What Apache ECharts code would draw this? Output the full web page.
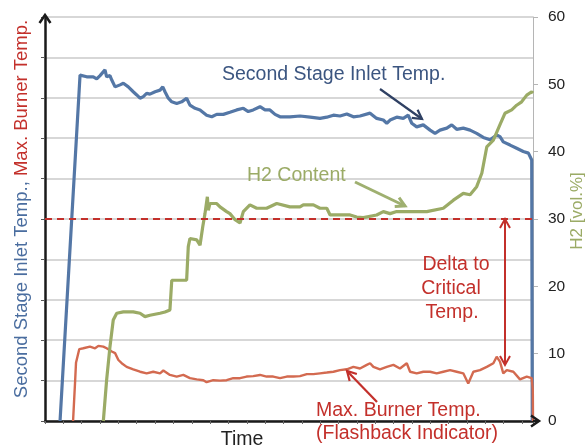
<!DOCTYPE html>
<html>
<head>
<meta charset="utf-8">
<script src="https://cdn.jsdelivr.net/npm/echarts@6/dist/echarts.min.js"></script>
<style>html,body{margin:0;padding:0;background:#fff}#c{width:586px;height:445px}</style>
</head>
<body>
<div id="c"></div>
<script>
// Second Stage Inlet Temp. (left axis, relative units 0-100)
const blueTime = [8.2,19.1,22.7,26.3,28.2,30.0,32.7,33.6,35.4,36.4,38.2,40.9,42.7,45.4,48.1,50.0,51.8,53.6,55.4,57.2,60.0,62.7,64.2,65.4,67.2,69.1,71.8,74.5,77.2,79.0,81.8,84.5,88.1,90.9,93.6,97.2,100.8,104.5,108.1,110.8,113.5,117.2,119.9,122.6,125.4,128.1,131.8,133.5,139.0,144.5,149.9,153.6,157.2,160.8,164.5,168.1,171.7,177.2,180.8,184.4,186.3,188.1,191.7,195.3,198.0,199.9,202.6,206.2,209.9,212.6,215.3,219.0,221.7,224.4,228.0,231.7,235.3,238.9,242.6,246.2,248.0,249.8,253.5,257.1,260.7,263.5,265.3,265.6];
const blueTemp = [0,85.6,85.2,85.2,84.7,85.5,86.9,85.2,85.5,84.4,82.7,83.2,83.6,82.7,81.5,80.7,79.9,80.3,81.1,80.9,81.5,81.9,82.7,81.5,79.9,79.0,78.6,79.0,79.9,78.2,77.4,77.0,75.7,75.3,75.9,75.9,76.4,77.0,77.4,76.6,77.0,77.8,77.0,77.0,75.9,75.3,75.3,75.3,75.5,75.2,74.9,75.2,75.7,75.5,76.0,75.3,75.5,76.2,74.9,74.5,73.7,74.5,75.2,74.9,75.7,73.7,72.8,73.3,72.0,71.2,72.0,72.5,73.3,72.2,72.5,72.0,71.2,70.2,69.6,70.8,70.4,69.1,68.3,67.5,66.7,66.3,64.6,0];

// Max. Burner Temp. (left axis)
const redTime = [15.3,16.4,16.9,18.7,19.1,20.9,24.5,27.3,29.1,31.8,33.6,36.4,38.2,40.0,41.8,44.5,48.1,51.8,55.4,59.0,62.7,64.5,68.1,71.8,75.4,79.0,82.7,86.3,88.1,91.7,95.4,99.0,102.6,106.3,109.9,113.5,117.2,120.8,124.4,128.1,131.8,135.4,139.0,142.7,146.3,149.9,153.6,157.2,160.8,164.5,168.1,171.7,175.4,177.2,179.0,182.6,186.3,189.9,193.5,197.2,199.0,202.6,206.2,209.9,213.5,217.1,220.8,224.4,228.0,230.7,233.5,237.1,240.8,244.4,246.2,248.0,249.8,251.7,255.3,258.9,262.6,265.3,265.9,266.0];
const redTemp = [0,9.7,14.4,17.8,17.6,18.0,18.4,18.0,18.6,18.4,18.0,17.2,16.8,15.1,14.3,13.4,12.8,12.2,11.8,12.2,11.8,12.5,11.4,11.0,11.4,10.6,10.3,10.1,9.6,10.1,10.0,10.1,10.6,10.6,11.0,11.1,11.4,11.0,11.0,10.6,11.0,11.0,11.1,11.6,11.6,11.8,12.0,12.2,12.6,12.8,13.4,13.0,13.9,14.3,13.4,12.8,13.4,13.9,13.0,14.3,12.2,11.8,12.2,12.2,11.8,12.2,12.6,12.2,11.8,9.3,12.2,12.6,13.4,14.3,15.9,14.7,11.8,12.6,12.2,10.3,11.0,10.6,7.7,0];

// H2 content (right axis, vol.%)
const h2Time = [31.8,32.2,33.6,35.4,37.2,39.1,42.7,48.1,51.8,54.5,57.2,62.7,65.4,68.1,69.1,71.8,77.2,78.1,79.0,82.7,84.5,86.0,87.2,88.5,89.0,89.9,93.6,95.4,99.0,100.8,103.6,106.3,108.1,111.7,115.4,120.8,126.3,133.5,139.0,140.8,146.3,149.9,153.6,155.4,162.6,166.3,169.9,173.5,180.8,184.4,188.1,191.7,197.2,208.1,217.1,222.6,228.0,231.7,235.3,238.1,240.8,244.4,248.0,250.7,254.4,257.1,259.8,262.6,265.3,266.0];
const h2Vol = [0,0.1,6.1,11.0,15.0,16.0,16.2,16.2,16.0,15.5,15.7,16.0,16.2,16.5,20.9,20.9,20.9,25.9,27.1,26.9,26.1,28.9,30.8,33.3,31.3,32.3,32.3,31.8,31.1,30.8,29.9,29.4,31.1,32.1,31.6,31.6,32.3,31.8,31.8,32.1,32.1,31.6,31.6,30.6,30.6,30.6,30.3,30.2,30.6,31.1,30.8,31.1,31.1,31.1,31.6,32.8,33.8,33.6,34.8,36.8,40.7,41.7,44.0,45.7,46.2,46.9,47.4,48.4,48.9,48.7];

// Critical reference level (right axis)
const criticalLevel = [30];
const rightTicks = [0,10,20,30,40,50,60];

const zip = (a, b) => a.map((t, i) => [t, b[i]]);
const FONT = "'Liberation Sans', Arial, sans-serif";
const AF = '19.5px ' + FONT;
const RED = '#c3302b', GREEN = '#9bab66', BLUEAX = '#4a6d9f';

function arrowHead(x1, y1, x2, y2, len, half) {
  const a = Math.atan2(y2 - y1, x2 - x1);
  const bx = x2 - len * Math.cos(a), by = y2 - len * Math.sin(a);
  return [[bx + half * Math.sin(a), by - half * Math.cos(a)], [x2, y2], [bx - half * Math.sin(a), by + half * Math.cos(a)]];
}
function arrow(x1, y1, x2, y2, color, w, both) {
  const els = [
    { type: 'line', shape: { x1, y1, x2, y2 }, style: { stroke: color, lineWidth: w }, z: 100 },
    { type: 'polyline', shape: { points: arrowHead(x1, y1, x2, y2, 9, 5) }, style: { stroke: color, lineWidth: w, fill: null }, z: 100 }
  ];
  if (both) els.push({ type: 'polyline', shape: { points: arrowHead(x2, y2, x1, y1, 9, 5) }, style: { stroke: color, lineWidth: w, fill: null }, z: 100 });
  return els;
}
function txt(x, y, text, color, align, font) {
  return { type: 'text', x, y, z: 100,
    style: { text, fill: color, font: font || AF, align: align || 'left', verticalAlign: 'middle' } };
}

const chart = echarts.init(document.getElementById('c'), null, { renderer: 'canvas' });
chart.setOption({
  animation: false,
  backgroundColor: '#ffffff',
  grid: { left: 45, right: 53, top: 17, bottom: 24, containLabel: false },
  xAxis: {
    type: 'value', min: 0, max: 266, interval: 10,
    axisLine: { show: true, lineStyle: { color: '#1a1a1a', width: 2.5 } },
    axisTick: { show: true, length: 3, lineStyle: { color: '#666', width: 1 } },
    axisLabel: { show: false }, splitLine: { show: false }
  },
  yAxis: [
    {
      type: 'value', min: 0, max: 100, interval: 10, position: 'left',
      axisLine: { show: true, lineStyle: { color: '#1a1a1a', width: 2.5 } },
      axisTick: { show: true, length: 4, lineStyle: { color: '#555' } },
      axisLabel: { show: false },
      splitLine: { show: true, lineStyle: { color: '#cacaca', width: 1.5 } }
    },
    {
      type: 'value', min: 0, max: 60, interval: 10, position: 'right',
      axisLine: { show: true, lineStyle: { color: '#b5b5b5', width: 1 } },
      axisTick: { show: true, length: 5, lineStyle: { color: '#b5b5b5' } },
      axisLabel: { show: true, color: '#222', fontSize: 15.5, fontFamily: FONT, margin: 15,
        formatter: v => rightTicks.includes(v) ? String(v) : '' },
      splitLine: { show: false }
    }
  ],
  series: [
    { name: 'Second Stage Inlet Temp.', type: 'line', yAxisIndex: 0, data: zip(blueTime, blueTemp), showSymbol: false,
      lineStyle: { color: '#5477a6', width: 3.2 }, z: 3 },
    { name: 'Max. Burner Temp.', type: 'line', yAxisIndex: 0, data: zip(redTime, redTemp), showSymbol: false,
      lineStyle: { color: '#d36a50', width: 2.4 }, z: 4 },
    { name: 'H2 Content', type: 'line', yAxisIndex: 1, data: zip(h2Time, h2Vol), showSymbol: false,
      lineStyle: { color: GREEN, width: 3.2 }, z: 5 },
    { name: 'Critical', type: 'line', yAxisIndex: 1, data: [[0, criticalLevel[0]], [266, criticalLevel[0]]], showSymbol: false,
      lineStyle: { color: RED, width: 2, type: [7, 5] }, z: 6 }
  ],
  graphic: [
    // axis arrow chevrons
    { type: 'polyline', shape: { points: [[39.5, 23], [45, 15], [50.5, 23]] }, style: { stroke: '#1a1a1a', lineWidth: 2.5, fill: null }, z: 100 },
    { type: 'line', shape: { x1: 45, y1: 17, x2: 45, y2: 16 }, style: { stroke: '#1a1a1a', lineWidth: 2.5 }, z: 100 },
    { type: 'line', shape: { x1: 533, y1: 421, x2: 538, y2: 421 }, style: { stroke: '#1a1a1a', lineWidth: 2.5 }, z: 100 },
    { type: 'polyline', shape: { points: [[531, 415.5], [539, 421], [531, 426.5]] }, style: { stroke: '#1a1a1a', lineWidth: 2.5, fill: null }, z: 100 },
    // left axis title (rotated)
    { type: 'text', x: 22, y: 209, rotation: Math.PI / 2, z: 100,
      style: { text: '{b|Second Stage Inlet Temp.,} {r|Max. Burner Temp.}', font: '18.5px ' + FONT, align: 'center', verticalAlign: 'middle',
        rich: { b: { fill: BLUEAX, font: '18.5px ' + FONT }, r: { fill: RED, font: '18.5px ' + FONT } } } },
    // right axis title
    { type: 'text', x: 577, y: 211, rotation: Math.PI / 2, z: 100,
      style: { text: 'H2 [vol.%]', fill: GREEN, font: '17px ' + FONT, align: 'center', verticalAlign: 'middle' } },
    // x axis title
    txt(242, 440, 'Time', '#222', 'center'),
    // annotations
    txt(222, 75, 'Second Stage Inlet Temp.', '#3b5580'),
    ...arrow(380, 89, 422, 119, '#2f4063', 2.2),
    txt(247, 176, 'H2 Content', GREEN),
    ...arrow(355, 182, 405, 206, '#9fb070', 3),
    txt(456, 265, 'Delta to', RED, 'center'),
    txt(451, 289, 'Critical', RED, 'center'),
    txt(452, 313, 'Temp.', RED, 'center'),
    ...arrow(505, 365, 505, 219, RED, 2, true),
    txt(316, 411, 'Max. Burner Temp.', RED),
    txt(316, 434, '(Flashback Indicator)', RED),
    ...arrow(377, 402, 347, 371, RED, 2.2)
  ]
});
</script>
</body>
</html>
